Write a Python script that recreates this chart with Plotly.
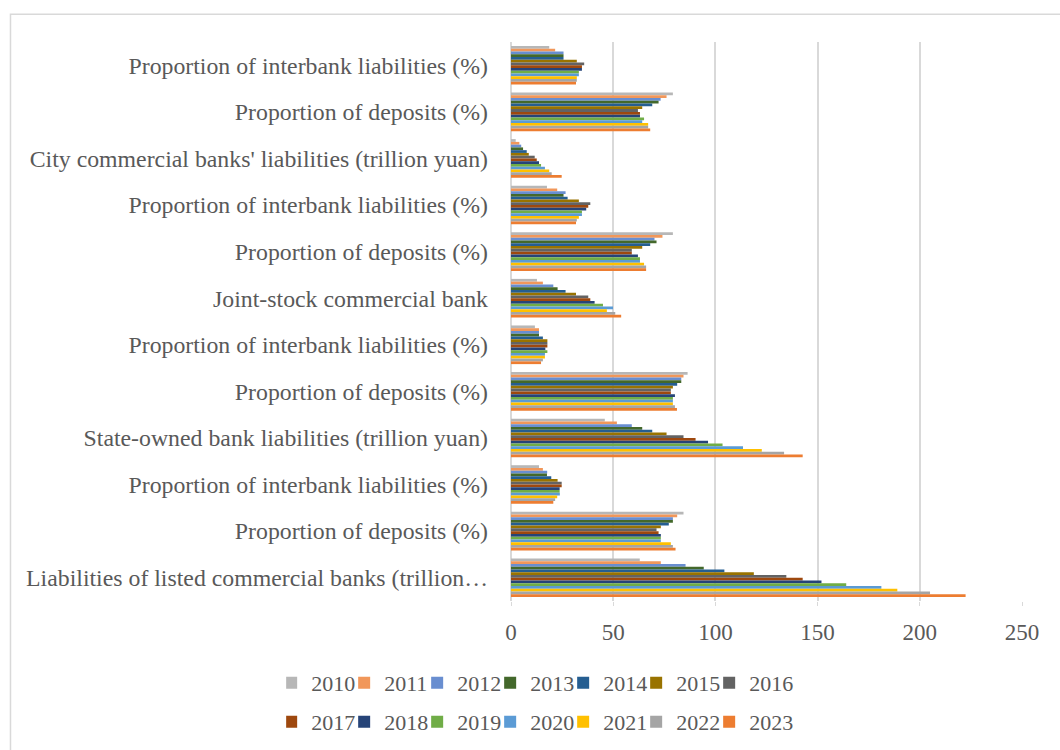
import plotly.graph_objects as go

years = [2010, 2011, 2012, 2013, 2014, 2015, 2016, 2017, 2018, 2019, 2020, 2021, 2022, 2023]

# categories, top to bottom as displayed
categories = [
    "Proportion of interbank liabilities (%)",
    "Proportion of deposits (%)",
    "City commercial banks' liabilities (trillion yuan)",
    "Proportion of interbank liabilities (%)",
    "Proportion of deposits (%)",
    "Joint-stock commercial bank",
    "Proportion of interbank liabilities (%)",
    "Proportion of deposits (%)",
    "State-owned bank liabilities (trillion yuan)",
    "Proportion of interbank liabilities (%)",
    "Proportion of deposits (%)",
    "Liabilities of listed commercial banks (trillion…",
]

# values per category, 2010..2023
city_ib = [18.7, 21.6, 25.7, 25.7, 25.7, 32.2, 35.8, 34.7, 34.7, 33.2, 33.2, 32.2, 32.2, 31.8]
city_dep = [79.2, 76.1, 73.2, 72.2, 69.1, 64.2, 62.1, 63.1, 63.1, 65.1, 64.2, 67.1, 67.1, 68.1]
city_liab = [2.3, 4.1, 5.0, 5.9, 7.7, 8.7, 11.6, 12.6, 13.7, 14.7, 16.6, 18.7, 19.9, 24.8]
joint_ib = [17.6, 22.6, 26.7, 25.7, 27.7, 33.2, 38.8, 37.8, 36.8, 34.7, 34.7, 33.2, 32.2, 31.8]
joint_dep = [79.2, 74.1, 70.2, 71.2, 68.1, 64.2, 59.1, 59.1, 62.1, 63.1, 63.1, 65.1, 66.1, 66.1]
joint_liab = [12.7, 15.6, 20.7, 22.8, 26.7, 31.8, 37.8, 38.8, 40.9, 45.0, 49.9, 46.9, 51.0, 53.9]
state_ib = [11.7, 13.7, 13.7, 13.7, 15.6, 17.8, 17.8, 17.8, 16.8, 17.8, 16.6, 16.6, 15.6, 14.7]
state_dep = [86.4, 84.4, 83.3, 83.3, 81.3, 79.2, 78.2, 78.2, 80.2, 79.2, 79.2, 79.2, 80.2, 81.2]
state_liab = [45.9, 51.8, 59.1, 64.2, 69.1, 76.1, 84.4, 90.3, 96.4, 103.5, 113.5, 122.7, 133.6, 142.7]
listed_ib = [13.7, 15.6, 17.7, 17.6, 19.7, 22.8, 24.8, 24.8, 23.8, 23.8, 23.9, 22.6, 21.6, 20.7]
listed_dep = [84.4, 81.3, 79.2, 79.2, 77.2, 73.3, 71.2, 72.2, 73.3, 73.3, 73.3, 78.2, 79.2, 80.5]
listed_liab = [63.0, 73.3, 85.4, 94.3, 104.4, 118.8, 134.7, 142.7, 151.9, 164.0, 181.2, 189.0, 205.0, 222.4]

rows = [city_ib, city_dep, city_liab, joint_ib, joint_dep, joint_liab,
        state_ib, state_dep, state_liab, listed_ib, listed_dep, listed_liab]

colors = ["#B7B7B7", "#F1975A", "#698ED0", "#43682B", "#255E91", "#997300", "#636363",
          "#9E480E", "#264478", "#70AD47", "#5B9BD5", "#FFC000", "#A5A5A5", "#ED7D31"]

FONT = "Liberation Serif"
TXT = "#595959"
GRID = "#D9D9D9"

fig = go.Figure()
positions = list(range(len(categories)))
for j, yr in enumerate(years):
    fig.add_trace(go.Bar(
        x=[r[j] for r in rows],
        y=positions,
        orientation="h",
        name=str(yr),
        marker=dict(color=colors[j], line=dict(width=0)),
        legend="legend" if j < 7 else "legend2",
    ))

W, H = 1060, 750
L, R, T, B = 511, 37.5, 41.7, 149
pw = W - L - R
ph = H - T - B

legend_common = dict(orientation="h", xref="container", yref="container", x=0.511,
                     xanchor="center", yanchor="middle", font=dict(size=22), indentation=-15,
                     itemwidth=30, entrywidth=43, traceorder="normal")

fig.update_layout(
    width=W, height=H,
    margin=dict(l=L, r=R, t=T, b=B, autoexpand=False),
    paper_bgcolor="white", plot_bgcolor="white",
    font=dict(family=FONT, size=23.8, color=TXT),
    barmode="group", bargap=0.17, bargroupgap=0,
    xaxis=dict(range=[0, 250], tickvals=[0, 50, 100, 150, 200, 250],
               showgrid=True, gridcolor=GRID, gridwidth=1.5,
               zeroline=True, zerolinecolor=GRID, zerolinewidth=1.5,
               showline=False, ticks="outside", ticklen=4, tickcolor=GRID,
               ticklabelstandoff=6, tickfont=dict(size=23)),
    yaxis=dict(range=[len(categories) - 0.5, -0.5], tickvals=positions, ticktext=categories,
               showgrid=False, zeroline=False, showline=False, ticks="",
               ticklabelstandoff=22),
    legend=dict(legend_common, y=1 - 683 / H),
    legend2=dict(legend_common, y=1 - 722 / H),
    shapes=[dict(type="rect", xref="paper", yref="paper",
                 x0=(10 - L) / pw, x1=(W + 20 - L) / pw,
                 y0=(T + ph - (H + 20)) / ph, y1=(T + ph - 14) / ph,
                 line=dict(color=GRID, width=1.5), fillcolor="rgba(0,0,0,0)", layer="below")],
)

fig.write_html("out.html")
